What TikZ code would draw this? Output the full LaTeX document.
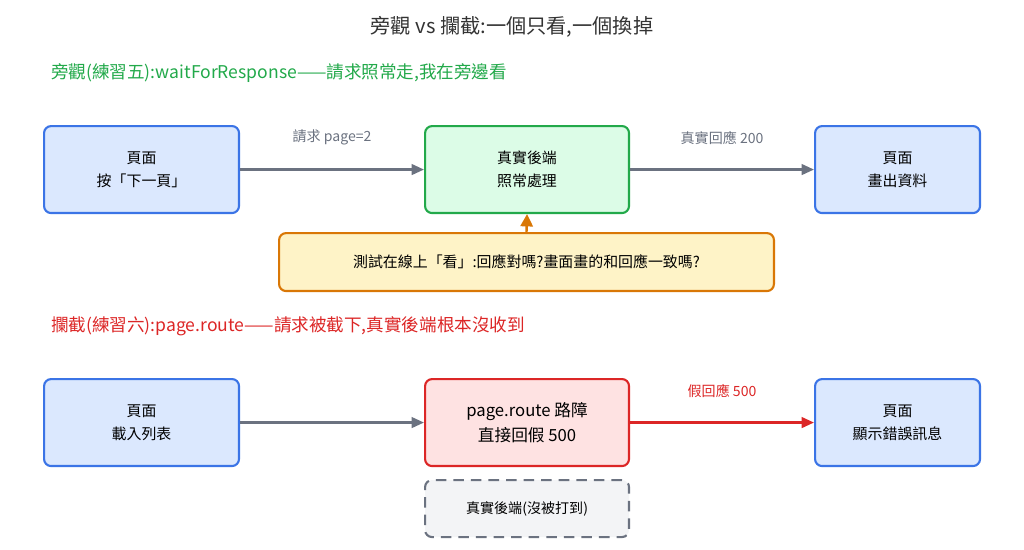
\documentclass[tikz,border=0pt]{standalone}
\usepackage{fontspec}
\setmainfont{Noto Sans CJK TC}
\usetikzlibrary{arrows.meta}
\definecolor{bluefill}{HTML}{DBE8FE}
\definecolor{blueline}{HTML}{3B74E6}
\definecolor{greenfill}{HTML}{DCFCE7}
\definecolor{greenline}{HTML}{22A94A}
\definecolor{redfill}{HTML}{FEE2E2}
\definecolor{redline}{HTML}{DC2626}
\definecolor{yellowfill}{HTML}{FEF3C7}
\definecolor{orangeline}{HTML}{D97706}
\definecolor{grayfill}{HTML}{F3F4F6}
\definecolor{grayline}{HTML}{6B7280}
\tikzset{
  box/.style={draw, rounded corners=4pt, line width=1.2pt, align=center,
    font=\fontsize{8.5}{13}\selectfont, anchor=north west},
  conn/.style={-{Triangle[length=7pt,width=6pt]}, line width=1.4pt, draw=grayline},
  lbl/.style={font=\fontsize{8}{10}\selectfont, text=grayline}
}
\begin{document}
\begin{tikzpicture}[x=0.02cm,y=-0.02cm]
  \useasboundingbox (0,0) rectangle (1024,549);
  % title
  \node[font=\fontsize{11.5}{14}\selectfont, text=black!80] (title) at (512,27) {旁觀 vs 攔截:一個只看,一個換掉};
  \node[anchor=west, font=\fontsize{10}{12}\selectfont, text=greenline] (secA) at (45,73)
    {旁觀(練習五):waitForResponse——請求照常走,我在旁邊看};
  \node[anchor=west, font=\fontsize{10}{12}\selectfont, text=redline] (secB) at (45,326)
    {攔截(練習六):page.route——請求被截下,真實後端根本沒收到};
  % top row
  \node[box, fill=bluefill, draw=blueline, minimum width=3.9cm, minimum height=1.74cm] (pageA) at (43,125) {頁面\\按「下一頁」};
  \node[box, fill=greenfill, draw=greenline, minimum width=4.08cm, minimum height=1.74cm] (backend) at (424,125) {真實後端\\照常處理};
  \node[box, fill=bluefill, draw=blueline, minimum width=3.3cm, minimum height=1.74cm] (drawA) at (814,125) {頁面\\畫出資料};
  \node[box, fill=yellowfill, draw=orangeline, minimum width=9.9cm, minimum height=1.16cm] (watch) at (278,232)
    {測試在線上「看」:回應對嗎?畫面畫的和回應一致嗎?};
  \draw[conn] (pageA) -- node[lbl, above=10pt] {請求 page=2} (backend);
  \draw[conn] (backend) -- node[lbl, above=10pt] {真實回應 200} (drawA);
  \draw[-{Triangle[length=7pt,width=7pt]}, line width=1.4pt, draw=orangeline] (watch.north) -- ++(0,-1) coordinate (tip) -- (backend.south);
  % bottom row
  \node[box, fill=bluefill, draw=blueline, minimum width=3.9cm, minimum height=1.74cm] (pageB) at (43,378) {頁面\\載入列表};
  \node[box, fill=redfill, draw=redline, minimum width=4.08cm, minimum height=1.74cm, font=\fontsize{9.5}{14}\selectfont] (route) at (424,378) {page.route 路障\\直接回假 500};
  \node[box, fill=bluefill, draw=blueline, minimum width=3.3cm, minimum height=1.74cm] (drawB) at (814,378) {頁面\\顯示錯誤訊息};
  \node[box, fill=grayfill, draw=grayline, dashed, dash pattern=on 6pt off 4pt, minimum width=4.08cm, minimum height=1.14cm, font=\fontsize{8}{10}\selectfont] (ghost) at (424,479) {真實後端(沒被打到)};
  \draw[conn] (pageB) -- (route);
  \draw[conn, draw=redline] (route) -- node[lbl, text=redline, above=10pt] {假回應 500} (drawB);
\end{tikzpicture}
\end{document}
